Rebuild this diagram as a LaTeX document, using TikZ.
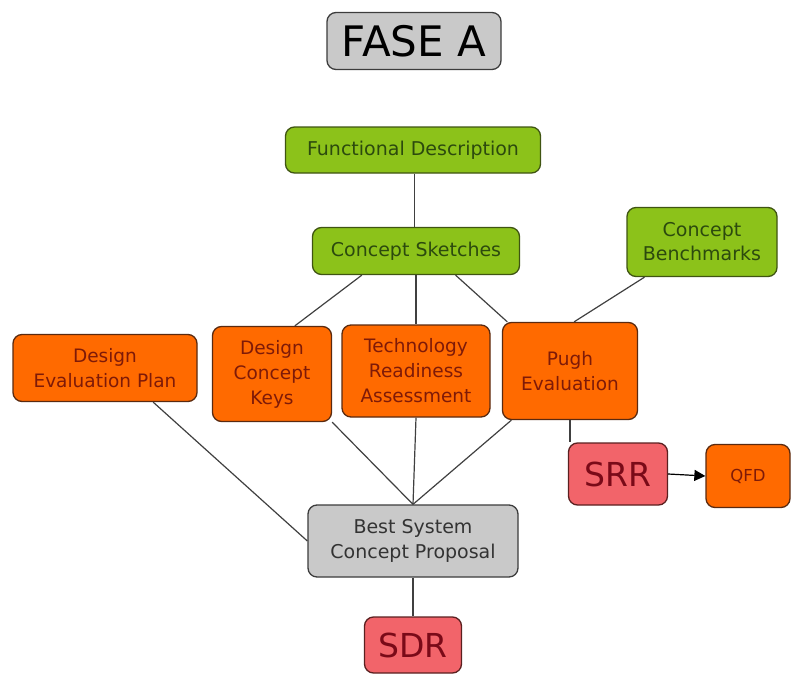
\documentclass[tikz,border=0pt]{standalone}
\usepackage{fontspec}
\setmainfont{DejaVu Sans}
\usetikzlibrary{calc,arrows.meta}
\definecolor{greenfill}{HTML}{8CC21A}
\definecolor{greenedge}{HTML}{3F5412}
\definecolor{greentext}{HTML}{2C4A0E}
\definecolor{orangefill}{HTML}{FF6A00}
\definecolor{orangeedge}{HTML}{5A2A10}
\definecolor{orangetext}{HTML}{7E1A08}
\definecolor{grayfill}{HTML}{C9C9C9}
\definecolor{grayedge}{HTML}{3C3C3C}
\definecolor{graytext}{HTML}{333333}
\definecolor{redfill}{HTML}{F2646A}
\definecolor{rededge}{HTML}{5A2020}
\definecolor{redtext}{HTML}{7A0A18}
\definecolor{linkcol}{HTML}{404040}
\tikzset{
  box/.style={rounded corners=9pt, line width=1.3pt, align=center, inner sep=0pt},
  greenbox/.style={box, fill=greenfill, draw=greenedge, text=greentext, font=\fontsize{19}{24}\selectfont},
  orangebox/.style={box, fill=orangefill, draw=orangeedge, text=orangetext, font=\fontsize{18.5}{25}\selectfont},
  graybox/.style={box, fill=grayfill, draw=grayedge, text=graytext, font=\fontsize{19}{25}\selectfont},
  redbox/.style={box, fill=redfill, draw=rededge, text=redtext, font=\fontsize{33}{36}\selectfont},
  link/.style={draw=linkcol, line width=1.2pt},
}
\begin{document}
\begin{tikzpicture}[x=1pt,y=-1pt]
\useasboundingbox (0,0) rectangle (795,677);

% title
\node[box, fill=grayfill, draw=grayedge, text=black, font=\fontsize{42}{46}\selectfont,
      minimum width=174pt, minimum height=57pt] (fase) at (414,41) {FASE A};

% upper green row
\node[greenbox, minimum width=255pt, minimum height=46pt] (fd) at (413,150) {Functional Description};
\node[greenbox, minimum width=207pt, minimum height=47pt] (cs) at (416,251) {Concept Sketches};
\node[greenbox, minimum width=150pt, minimum height=69pt] (cb) at (702,242) {Concept\\Benchmarks};

% orange row
\node[orangebox, minimum width=184pt, minimum height=67pt] (dep) at (105,368) {Design\\Evaluation Plan};
\node[orangebox, minimum width=119pt, minimum height=95pt] (dck) at (272,374) {Design\\Concept\\Keys};
\node[orangebox, minimum width=148pt, minimum height=92pt] (tra) at (416,371) {Technology\\Readiness\\Assessment};
\node[orangebox, minimum width=135pt, minimum height=97pt] (pugh) at (570,371) {Pugh\\Evaluation};

% reviews and proposal
\node[redbox, minimum width=99pt, minimum height=62pt] (srr) at (618,474) {SRR};
\node[orangebox, font=\fontsize{16.5}{20}\selectfont, minimum width=84pt, minimum height=63pt] (qfd) at (748,476) {QFD};
\node[graybox, minimum width=210pt, minimum height=72pt] (bscp) at (413,541) {Best System\\Concept Proposal};
\node[redbox, minimum width=97pt, minimum height=56pt] (sdr) at (413,645) {SDR};

% connectors
\coordinate (fdcs) at ($(fd.south)!0.5!(cs.north)$);
\draw[link] (fdcs |- fd.south) -- (fdcs |- cs.north);
\draw[link] ($(cs.south west)!0.24!(cs.south east)$) -- ($(dck.north west)!0.69!(dck.north east)$);
\draw[link] (cs.south) -- (tra.north);
\draw[link] ($(cs.south west)!0.69!(cs.south east)$) -- ($(pugh.north west)!0.04!(pugh.north east)$);
\draw[link] ($(cb.south west)!0.12!(cb.south east)$) -- ($(pugh.north west)!0.53!(pugh.north east)$);

\draw[link] ($(dep.south west)!0.76!(dep.south east)$) -- (bscp.west);
\draw[link] (dck.south east) -- (bscp.north);
\draw[link] (tra.south) -- (bscp.north);
\draw[link] ($(pugh.south west)!0.07!(pugh.south east)$) -- (bscp.north);
\draw[link] (pugh.south) -- (pugh.south |- srr.north);
\draw[link, -{Triangle[length=11pt,width=11pt]}, draw=black, fill=black] (srr.east) -- (qfd.west);
\draw[link] (bscp) -- (sdr);
\end{tikzpicture}
\end{document}
